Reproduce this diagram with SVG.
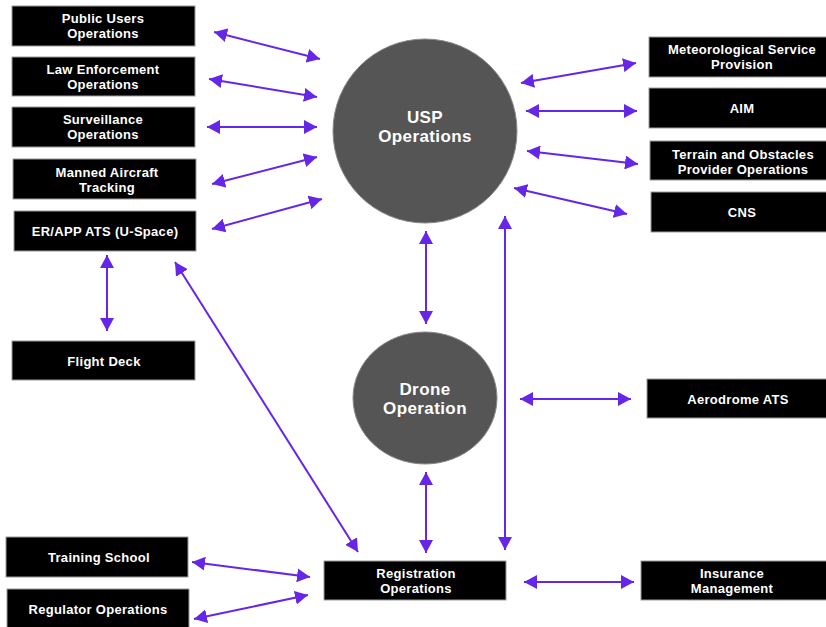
<svg xmlns="http://www.w3.org/2000/svg" width="826" height="627" viewBox="0 0 826 627">
<style>
.box{fill:#000;stroke:#9a9a9a;stroke-width:1}
.t{font-family:"Liberation Sans",Arial,sans-serif;font-weight:bold;font-size:13px;fill:#fff;text-anchor:middle;letter-spacing:0.3px}
.c{fill:#555;stroke:#8a8a8a;stroke-width:1}
.ct{font-family:"Liberation Sans",Arial,sans-serif;font-weight:bold;font-size:17px;fill:#fff;text-anchor:middle;letter-spacing:0.4px}
.a{stroke:#6526e8;stroke-width:2;fill:none;marker-start:url(#ah);marker-end:url(#ah)}
</style>
<defs>
<marker id="ah" viewBox="0 0 13 14" refX="13" refY="7" markerWidth="13" markerHeight="14" orient="auto-start-reverse" markerUnits="userSpaceOnUse">
<path d="M0,0 L13,7 L0,14 z" fill="#6526e8"/>
</marker>
</defs>
<rect width="826" height="627" fill="#fff"/>

<g id="connectors">
<line class="a" x1="214" y1="32" x2="320" y2="59"/>
<line class="a" x1="209" y1="79" x2="317" y2="97"/>
<line class="a" x1="207" y1="127" x2="317" y2="127"/>
<line class="a" x1="212" y1="184" x2="317" y2="157"/>
<line class="a" x1="212" y1="229" x2="322" y2="199"/>
<line class="a" x1="521" y1="83" x2="636" y2="63"/>
<line class="a" x1="526" y1="111" x2="637" y2="111"/>
<line class="a" x1="527" y1="151" x2="638" y2="164"/>
<line class="a" x1="514" y1="188" x2="627" y2="214"/>
<line class="a" x1="426" y1="231" x2="426" y2="324"/>
<line class="a" x1="505" y1="216" x2="505" y2="550"/>
<line class="a" x1="426" y1="472" x2="426" y2="553"/>
<line class="a" x1="107" y1="255" x2="107" y2="331"/>
<line class="a" x1="175" y1="262" x2="358" y2="552"/>
<line class="a" x1="520" y1="399" x2="631" y2="399"/>
<line class="a" x1="524" y1="582" x2="634" y2="582"/>
<line class="a" x1="192" y1="562" x2="310" y2="577"/>
<line class="a" x1="194" y1="619" x2="308" y2="595"/>
</g>

<g id="usp"><circle class="c" cx="425" cy="131" r="92"/><text class="ct" x="425" y="123">USP</text><text class="ct" x="425" y="142">Operations</text></g>
<g id="drone"><ellipse class="c" cx="425" cy="398" rx="72" ry="66"/><text class="ct" x="425" y="395">Drone</text><text class="ct" x="425" y="414">Operation</text></g>

<g id="public-users"><rect class="box" x="12" y="6" width="183" height="40"/><text class="t" x="103" y="23">Public Users</text><text class="t" x="103" y="38">Operations</text></g>
<g id="law-enforcement"><rect class="box" x="12" y="57" width="183" height="39"/><text class="t" x="103" y="74">Law Enforcement</text><text class="t" x="103" y="89">Operations</text></g>
<g id="surveillance"><rect class="box" x="12" y="107" width="183" height="40"/><text class="t" x="103" y="124">Surveillance</text><text class="t" x="103" y="139">Operations</text></g>
<g id="manned-aircraft"><rect class="box" x="13" y="159" width="183" height="40"/><text class="t" x="107" y="177">Manned Aircraft</text><text class="t" x="107" y="192">Tracking</text></g>
<g id="er-app-ats"><rect class="box" x="14" y="211" width="182" height="40"/><text class="t" x="105" y="236">ER/APP ATS (U-Space)</text></g>
<g id="flight-deck"><rect class="box" x="12" y="341" width="183" height="39"/><text class="t" x="104" y="366">Flight Deck</text></g>
<g id="training-school"><rect class="box" x="6" y="537" width="182" height="40"/><text class="t" x="99" y="562">Training School</text></g>
<g id="regulator-operations"><rect class="box" x="7" y="589" width="182" height="40"/><text class="t" x="98" y="614">Regulator Operations</text></g>

<g id="meteorological"><rect class="box" x="649" y="37" width="190" height="40"/><text class="t" x="742" y="54">Meteorological Service</text><text class="t" x="742" y="69">Provision</text></g>
<g id="aim"><rect class="box" x="649" y="88" width="190" height="40"/><text class="t" x="742" y="113">AIM</text></g>
<g id="terrain"><rect class="box" x="650" y="141" width="190" height="39"/><text class="t" x="743" y="159">Terrain and Obstacles</text><text class="t" x="743" y="174">Provider Operations</text></g>
<g id="cns"><rect class="box" x="651" y="192" width="190" height="40"/><text class="t" x="742" y="217">CNS</text></g>
<g id="aerodrome-ats"><rect class="box" x="647" y="379" width="190" height="39"/><text class="t" x="738" y="404">Aerodrome ATS</text></g>
<g id="registration"><rect class="box" x="324" y="561" width="182" height="39"/><text class="t" x="416" y="578">Registration</text><text class="t" x="416" y="593">Operations</text></g>
<g id="insurance"><rect class="box" x="641" y="561" width="190" height="39"/><text class="t" x="732" y="578">Insurance</text><text class="t" x="732" y="593">Management</text></g>
</svg>
